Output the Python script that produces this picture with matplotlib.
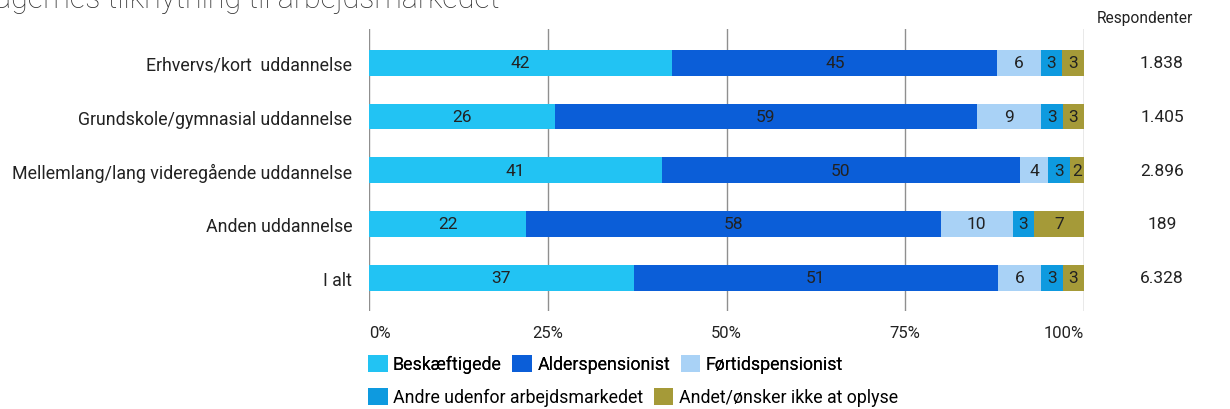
import matplotlib
matplotlib.use("Agg")
import matplotlib.pyplot as plt
import numpy as np

plt.rcParams['font.family'] = ['Roboto', 'DejaVu Sans']

categories = ["Erhvervs/kort  uddannelse", "Grundskole/gymnasial uddannelse",
              "Mellemlang/lang videregående uddannelse", "Anden uddannelse", "I alt"]
series_names = ["Beskæftigede", "Alderspensionist", "Førtidspensionist",
                "Andre udenfor arbejdsmarkedet", "Andet/ønsker ikke at oplyse"]
beskaeftigede = [42, 26, 41, 22, 37]
alderspensionist = [45, 59, 50, 58, 51]
fortidspensionist = [6, 9, 4, 10, 6]
andre = [3, 3, 3, 3, 3]
andet = [3, 3, 2, 7, 3]
respondenter = ["1.838", "1.405", "2.896", "189", "6.328"]
xticks = [0, 25, 50, 75, 100]
xtick_labels = ["0%", "25%", "50%", "75%", "100%"]

colors = ["#22C3F3", "#0B5ED8", "#A9D2F6", "#0E9ADF", "#A59A38"]

series = np.array([beskaeftigede, alderspensionist, fortidspensionist, andre, andet], dtype=float)
totals = series.sum(axis=0)
pct = series / totals * 100

fig = plt.figure(figsize=(12.3, 4.1), dpi=100)
ax = fig.add_axes([369/1230, 1-312/410, (1084-369)/1230, (312-30)/410])

y = np.arange(len(categories))
left = np.zeros(len(categories))
handles = []
for i, name in enumerate(series_names):
    b = ax.barh(y, pct[i], left=left, height=0.48, color=colors[i], label=name, zorder=3)
    handles.append(b)
    for j in range(len(categories)):
        ax.text(left[j] + pct[i][j]/2, y[j], f"{int(series[i][j])}", ha='center', va='center',
                fontsize=12.5, color='#222222', zorder=4)
    left += pct[i]

ax.set_xlim(0, 100)
ax.set_ylim(4.62, -0.63)
ax.set_yticks(y)
ax.set_yticklabels(categories, fontsize=12.8, color='#222222')
ax.set_xticks(xticks)
ax.set_xticklabels(xtick_labels, fontsize=12, color='#222222')
tl = ax.get_xticklabels()
tl[0].set_ha('left')
tl[-1].set_ha('right')
ax.tick_params(axis='y', length=0, pad=12)
ax.tick_params(axis='x', length=0, pad=10)
ax.grid(axis='x', color='#8f8f8f', linewidth=1, zorder=0)
for s in ax.spines.values():
    s.set_visible(False)

for j, r in enumerate(respondenter):
    ax.text(1.109, y[j], r, transform=ax.get_yaxis_transform(), ha='center', va='center',
            fontsize=12.5, color='#222222')
fig.text(1145/1230, 1-18/410, "Respondenter", ha='center', va='center', fontsize=11.2, color='#222222')

fig.text(-0.004, 1-8/410, "agernes tilknytning til arbejdsmarkedet", ha='left', va='baseline',
         fontsize=22, color='#333333', fontweight='light')

leg1 = fig.legend(handles=handles[:3], loc='center left', bbox_to_anchor=(368/1230, 1-365/410),
                  ncol=3, frameon=False, fontsize=12.8, handlelength=1.1, handleheight=1.1,
                  handletextpad=0.3, columnspacing=0.6, borderaxespad=0, borderpad=0)
leg2 = fig.legend(handles=handles[3:], loc='center left', bbox_to_anchor=(368/1230, 1-398/410),
                  ncol=2, frameon=False, fontsize=12.8, handlelength=1.1, handleheight=1.1,
                  handletextpad=0.3, columnspacing=0.6, borderaxespad=0, borderpad=0)
fig.add_artist(leg1)

fig.savefig("out.png", dpi=100)
